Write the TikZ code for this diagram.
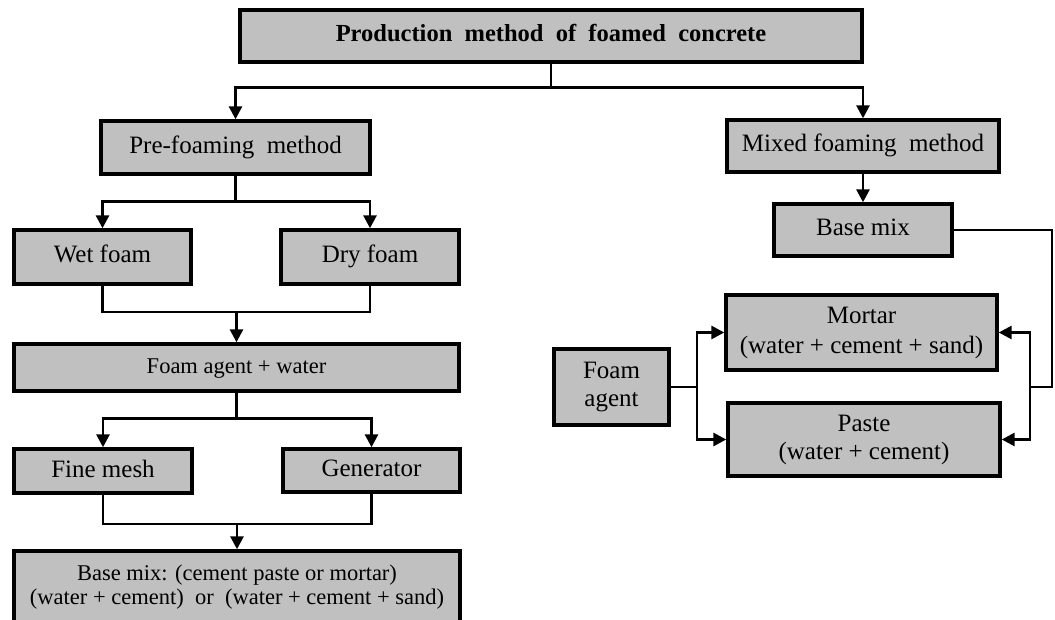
\documentclass[tikz,border=0pt]{standalone}
\usepackage{fontspec}
\setmainfont{Liberation Serif}
\usetikzlibrary{arrows.meta}
\definecolor{boxgray}{RGB}{192,192,192}

\begin{document}
\begin{tikzpicture}[x=1pt, y=-1pt, >={Triangle[length=13pt,width=13pt]},
		stage/.style={rectangle, draw=black, fill=boxgray, line width=3.4pt, inner sep=0pt, align=center, font=\fontsize{25}{28}\selectfont},
		oneline/.style={text height=17pt, text depth=5pt},
		link/.style={line width=2.8pt},
		feed/.style={line width=1.8pt},
		]
	\path[use as bounding box, fill=white] (0,0) rectangle (1055,620);
	
	% top level
	\node[stage, oneline, minimum width=622pt, minimum height=52pt, font=\fontsize{24.5}{26}\selectfont\bfseries] (Production) at (551,36) {Production \ method \ of \ foamed \ concrete};
	\node[stage, oneline, minimum width=269pt, minimum height=53pt] (PreFoam) at (235.5,147.5) {Pre-foaming \ method};
	\node[stage, oneline, minimum width=272pt, minimum height=52pt] (MixFoam) at (863,146) {Mixed foaming \ method};
	
	% pre-foaming branch
	\node[stage, oneline, minimum width=177pt, minimum height=54pt] (WetFoam) at (102.5,257) {Wet foam};
	\node[stage, oneline, minimum width=178pt, minimum height=54pt] (DryFoam) at (370,257) {Dry foam};
	\node[stage, oneline, minimum width=445pt, minimum height=47pt, font=\fontsize{22.5}{26}\selectfont] (AgentWater) at (236.5,367.5) {Foam agent + water};
	\node[stage, oneline, minimum width=178pt, minimum height=44pt] (FineMesh) at (103,471) {Fine mesh};
	\node[stage, oneline, minimum width=177pt, minimum height=43pt] (Generator) at (371.5,470.5) {Generator};
	\node[stage, minimum width=446pt, minimum height=72pt, font=\fontsize{22.5}{23.5}\selectfont] (BaseMixPre) at (237,587) {Base mix: (cement paste or mortar)\\(water + cement) \ or \ (water + cement + sand)};
	
	% mixed foaming branch
	\node[stage, oneline, minimum width=178pt, minimum height=52pt] (BaseMixMix) at (863,230) {Base mix};
	\node[stage, minimum width=271pt, minimum height=75pt, font=\fontsize{25}{30}\selectfont] (Mortar) at (861.5,332.5) {Mortar\\(water + cement + sand)};
	\node[stage, minimum width=272pt, minimum height=73pt] (Paste) at (864,439.5) {Paste\\(water + cement)};
	\node[stage, minimum width=115pt, minimum height=76pt] (FoamAgent) at (611.5,387) {Foam\\agent};
	
	\coordinate (MergeWetDry) at (236.5,312);
	\coordinate (MergeMesh) at (237,524);
	\coordinate (AgentSplit) at (697,387);
	\coordinate (BaseSplit) at (1030,387);
	
	
	\draw[link, ->] (Production.south) -- ++(0,24) -| (PreFoam.north);
	\draw[link, ->] (Production.south) -- ++(0,24) -| (MixFoam.north);
	
	\draw[link, ->] (PreFoam.south) -- ++(0,26) -| (WetFoam.north);
	\draw[link, ->] (PreFoam.south) -- ++(0,26) -| (DryFoam.north);
	\draw[link] (WetFoam.south) |- (MergeWetDry) -| (DryFoam.south);
	\draw[link, ->] (MergeWetDry) -- (AgentWater.north);
	
	\draw[link, ->] (AgentWater.south) -- ++(0,26) -| (FineMesh.north);
	\draw[link, ->] (AgentWater.south) -- ++(0,26) -| (Generator.north);
	\draw[link] (FineMesh.south) |- (MergeMesh) -| (Generator.south);
	\draw[link, ->] (MergeMesh) -- (BaseMixPre.north);
	
	\draw[link, ->] (MixFoam.south) -- (BaseMixMix.north);
	\draw[feed] (BaseMixMix.east) -- ++(98,0) |- (BaseSplit);
	\draw[link, ->] (BaseSplit) |- (Mortar.east);
	\draw[link, ->] (BaseSplit) |- (Paste.east);
	
	\draw[link] (FoamAgent.east) -- (AgentSplit);
	\draw[link, ->] (AgentSplit) |- (Mortar.west);
	\draw[link, ->] (AgentSplit) |- (Paste.west);
	
\end{tikzpicture}
\end{document}
